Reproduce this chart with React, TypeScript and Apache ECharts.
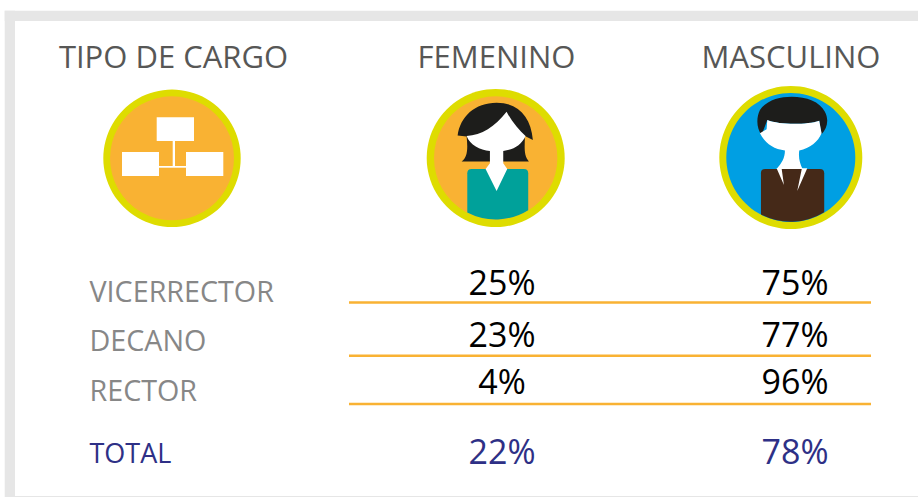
import React, { useEffect, useRef } from "react";
import * as echarts from "echarts";

const headers = ["TIPO DE CARGO", "FEMENINO", "MASCULINO"];
const roles = ["VICERRECTOR", "DECANO", "RECTOR"];
const femenino = ["25%", "23%", "4%"];
const masculino = ["75%", "77%", "96%"];
const totalLabel = "TOTAL";
const totalFemenino = "22%";
const totalMasculino = "78%";

const FONT = '"Open Sans", "Noto Sans", sans-serif';
const GREY_H = "#575756";
const GREY_L = "#878787";
const NAVY = "#2E3086";
const ORANGE = "#F9B233";
const YELLOW = "#DEDC00";

echarts.graphic.registerShape("femaleHair", echarts.graphic.extendPath(
  "M128,167 C135,110 180,68 245,68 C310,68 348,110 354,180 L330,168 C330,200 325,225 342,245 L140,245 C160,230 158,200 155,170 Z", {}));
echarts.graphic.registerShape("femaleFace", echarts.graphic.extendPath(
  "M275,95 C240,140 200,165 155,168 C165,195 195,210 225,213 L225,250 L212,267 L245,333 L277,267 L265,250 L265,213 C295,210 320,195 332,168 C312,150 290,125 275,95 Z", {}));
echarts.graphic.registerShape("femaleBody", echarts.graphic.extendPath(
  "M157,280 Q157,267 170,267 L327,267 Q340,267 340,280 L340,391 A185,185 0 0 1 157,398 Z", {}));
echarts.graphic.registerShape("maleHair", echarts.graphic.extendPath(
  "M155,165 C140,145 138,115 150,90 C170,60 210,50 245,50 C290,50 330,65 345,95 C358,120 352,145 335,163 L328,122 C290,135 210,135 172,120 Z", {}));
echarts.graphic.registerShape("maleFace", echarts.graphic.extendPath(
  "M172,120 C210,135 290,135 328,122 L335,160 C325,185 300,205 268,212 C265,235 270,250 278,267 L200,267 C215,250 225,235 225,212 C190,208 165,190 150,160 L170,148 Z", {}));
echarts.graphic.registerShape("maleBody", echarts.graphic.extendPath(
  "M153,280 Q153,267 166,267 L330,267 Q343,267 343,280 L343,397 A193.5,193.5 0 0 1 153,404 Z", {}));
echarts.graphic.registerShape("maleLapels", echarts.graphic.extendPath(
  "M200,265 L215,265 L222,315 Z M276,265 L292,265 L262,333 Z", {}));

function txt(text: string, x: number, y: number, size: number, fill: string, align = "center") {
  return { type: "text", x, y, style: { text, fontSize: size, fontFamily: FONT, fill, align, verticalAlign: "middle" } };
}
function rect(x: number, y: number, width: number, height: number, fill: string) {
  return { type: "rect", shape: { x, y, width, height }, style: { fill } };
}
function disc(cx: number, cy: number, rOut: number, rIn: number, fill: string) {
  return [
    { type: "circle", shape: { cx, cy, r: rOut }, style: { fill: YELLOW } },
    { type: "circle", shape: { cx, cy, r: rIn }, style: { fill } },
  ];
}
function art(type: string, ox: number, oy: number, fill: string) {
  return { type, x: ox, y: oy, scaleX: 1 / 3, scaleY: 1 / 3, style: { fill } };
}

export default function App() {
  const ref = useRef<HTMLDivElement>(null);
  useEffect(() => {
    const chart = echarts.init(ref.current!, undefined, { renderer: "svg" });
    const rowF = [282, 334, 381];
    const rowL = [290, 339, 389];
    const lineY = [302.5, 355.8, 404];
    const elements: any[] = [
      rect(4.7, 10.7, 913.3, 10.3, "#E6E6E6"),
      rect(4.7, 10.7, 10.3, 486.3, "#E6E6E6"),
      rect(15, 496, 903, 1, "#E6E6E6"),
      txt(headers[0], 173.5, 56, 31, GREY_H),
      txt(headers[1], 496.5, 56, 31, GREY_H),
      txt(headers[2], 791, 56, 31, GREY_H),
      ...disc(172, 158.3, 68.7, 62, ORANGE),
      rect(156.7, 117.3, 37.3, 23.7, "#fff"),
      rect(122, 152, 37, 24, "#fff"),
      rect(186, 152, 37.3, 24, "#fff"),
      rect(172.7, 141, 2.3, 26, "#fff"),
      rect(159, 166, 27, 1.7, "#fff"),
      ...disc(495.7, 158, 69, 61.7, ORANGE),
      art("femaleHair", 415, 80, "#1D1D1B"),
      art("femaleBody", 415, 80, "#00A19A"),
      art("femaleFace", 415, 80, "#fff"),
      ...disc(790.8, 157.5, 71.5, 64.5, "#009FE3"),
      art("maleHair", 710, 80, "#1D1D1B"),
      art("maleBody", 710, 80, "#452918"),
      art("maleFace", 710, 80, "#fff"),
      art("maleLapels", 710, 80, "#fff"),
    ];
    roles.forEach((r, i) => {
      elements.push(txt(r, 89.5, rowL[i], 28.7, GREY_L, "left"));
      elements.push(txt(femenino[i], 502, rowF[i], 34, "#000"));
      elements.push(txt(masculino[i], 795, rowF[i], 34, "#000"));
      elements.push(rect(349, lineY[i] - 1.25, 522, 2.5, ORANGE));
    });
    elements.push(txt(totalLabel, 89.5, 452, 27, NAVY, "left"));
    elements.push(txt(totalFemenino, 502, 451, 34, NAVY));
    elements.push(txt(totalMasculino, 795, 451, 34, NAVY));
    chart.setOption({ animation: false, backgroundColor: "#fff", graphic: { elements } });
    return () => chart.dispose();
  }, []);
  return <div ref={ref} style={{ position: "fixed", left: 0, top: 0, width: 918, height: 497 }} />;
}
